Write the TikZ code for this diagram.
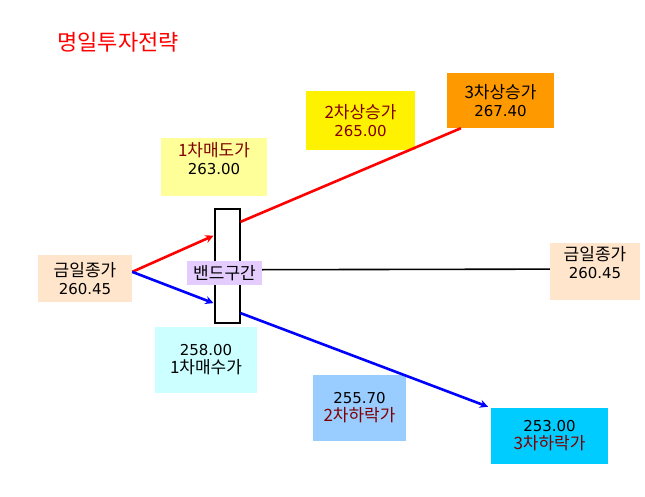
\documentclass[tikz,border=0pt]{standalone}
\usepackage{fontspec}
\setmainfont{DejaVu Sans}
\newfontfamily\korfont{Noto Sans CJK KR}
\newcommand{\kor}{\korfont\fontsize{17}{18}\selectfont}
\usetikzlibrary{shapes.geometric, arrows}
\usetikzlibrary{positioning}
\definecolor{darkred}{RGB}{128,0,0}
\definecolor{paleyellow}{RGB}{255,255,153}
\definecolor{peach}{RGB}{255,229,204}
\definecolor{lavender}{RGB}{229,204,255}
\definecolor{palecyan}{RGB}{204,255,255}
\definecolor{skyblue}{RGB}{153,204,255}
\definecolor{brightcyan}{RGB}{0,204,255}
\definecolor{orange}{RGB}{255,153,0}
\tikzstyle{price} = [rectangle, text centered, align=center, inner sep=0pt, font=\fontsize{15}{18}\selectfont]
\tikzstyle{band} = [rectangle, draw=black, line width=2pt, fill=white, minimum width=25, minimum height=113, inner sep=0pt]
\tikzstyle{up_move} = [line width=2.6pt, red, ->, >=stealth]
\tikzstyle{down_move} = [line width=2.6pt, blue, ->, >=stealth]
\tikzstyle{flat_move} = [line width=1.6pt, black]

\begin{document}
\begin{tikzpicture}[x=1pt, y=-1pt]

    \useasboundingbox (0,0) rectangle (645,497);

    \node (title) at (118,42) [font=\korfont\fontsize{22}{24}\selectfont, red] {명일투자전략};

    \node (sell1) at (214,167) [price, fill=paleyellow, minimum width=106, minimum height=58]
        {\textcolor{darkred}{\kor 1차매도가}\\263.00\\ };
    \node (up2) at (360.5,120.5) [price, fill=yellow, minimum width=109, minimum height=59, text=darkred]
        {{\kor 2차상승가}\\265.00};
    \node (up3) at (500.5,100.5) [price, fill=orange, minimum width=107, minimum height=55]
        {{\kor 3차상승가}\\267.40};

    \node (closeL) at (85,278.5) [price, fill=peach, minimum width=94, minimum height=47]
        {{\kor 금일종가}\\260.45};
    \node (closeR) at (595,271.5) [price, fill=peach, minimum width=90, minimum height=57]
        {{\kor 금일종가}\\260.45\\ };

    \node (buy1) at (206,360) [price, fill=palecyan, minimum width=102, minimum height=66]
        {258.00\\{\kor 1차매수가}};
    \node (down2) at (359.5,408) [price, fill=skyblue, minimum width=93, minimum height=66]
        {255.70\\\textcolor{darkred}{\kor 2차하락가}};
    \node (down3) at (549.5,436) [price, fill=brightcyan, minimum width=117, minimum height=56]
        {253.00\\\textcolor{darkred}{\kor 3차하락가}};

    \node (band) at (227,266) [band] {};
    \node (bandlabel) at (224.5,273) [price, fill=lavender, minimum width=75, minimum height=24] {\kor 밴드구간};

    \draw [up_move] (closeL.8) -- (band.114);
    \draw [down_move] (closeL.8) -- (band.250);
    \draw [up_move, -] (band.73) -- (up3.215.5);
    \draw [down_move, shorten >=3pt] (band.286) -- (down3.north west);
    \draw [flat_move] (bandlabel.5) -- (closeR.177);

\end{tikzpicture}
\end{document}
